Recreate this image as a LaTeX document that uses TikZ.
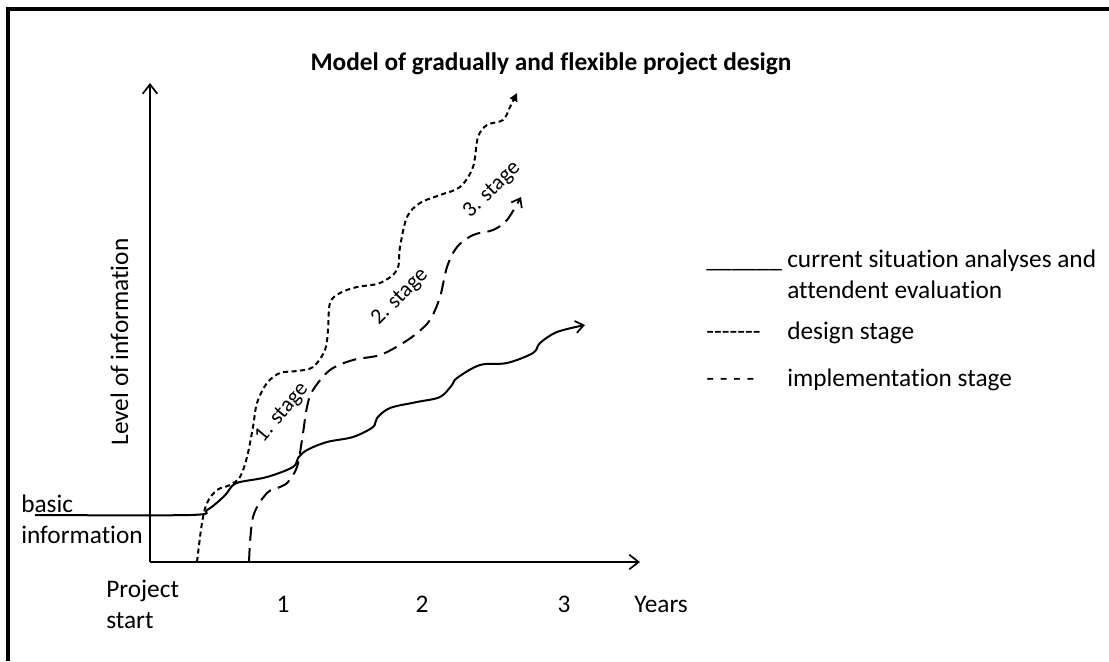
\documentclass[tikz,border=0pt]{standalone}
\usepackage{fontspec}
\setmainfont{Carlito}[Ligatures={TeX,NoCommon}]
\usetikzlibrary{arrows.meta}
\begin{document}
\begin{tikzpicture}[x=0.75pt,y=-0.75pt,
  txt/.style={inner sep=0pt,font=\fontsize{19}{21}\selectfont},
  stagelbl/.style={inner sep=0pt,font=\fontsize{16.5}{18}\selectfont},
  axisline/.style={line width=1.5pt,-{Straight Barb[length=7pt,width=11pt,line width=1.3pt]}},
  evalcurve/.style={line width=1.5pt},
  designcurve/.style={line width=1.5pt,dash pattern=on 3.8pt off 2.6pt},
  implcurve/.style={line width=1.5pt,dash pattern=on 10.5pt off 5.5pt},
  barb/.style={-{Straight Barb[length=6pt,width=9pt,line width=1.3pt]}}
]
\useasboundingbox (0,0) rectangle (1109,661);
% frame (top and left only)
\draw[line width=2.4pt] (8,661) -- (8,9) -- (1109,9);

% title
\node[txt,anchor=base,font=\fontsize{19}{21}\selectfont\bfseries] (title) at (551,70) {Model of gradually and flexible project design};

% axes
\coordinate (O) at (150,562);
\coordinate (ytop) at (150,83);
\coordinate (xend) at (640,562);
\draw[axisline] (O) -- (ytop);
\draw[axisline] (O) -- (xend);

% axis labels
\node[txt,anchor=base,rotate=90] (ylab) at (128,342) {Level of information};
\node[txt,anchor=base west] (basic) at (21,512) {basic};
\node[txt,anchor=base west] (info) at (21,543) {information};
\node[txt,anchor=base west] (proj) at (106,597) {Project};
\node[txt,anchor=base west] (start) at (106,628) {start};
\node[txt,anchor=base] (t1) at (283,612) {1};
\node[txt,anchor=base] (t2) at (422,612) {2};
\node[txt,anchor=base] (t3) at (564,612) {3};
\node[txt,anchor=base west] (years) at (634,612) {Years};

% current situation analyses curve (solid)
\draw[evalcurve,barb] plot[smooth,tension=0.55] coordinates {
 (35,515) (190,515) (207,510) (220,500) (227,493) (232,486) (240,482)
 (267,477) (293,467) (298,458) (307,450) (327,442) (353,437) (373,427)
 (377,418) (390,408) (417,402) (440,397) (452,385) (457,378) (480,365)
 (507,363) (533,353) (540,343) (557,332) (585,325)};

% design stage curve (short dashes)
\draw[designcurve,-{Triangle[length=6pt,width=6pt]}] plot[smooth,tension=0.55] coordinates {
 (197,562) (202,523) (207,503) (217,490) (230,485) (240,477) (247,457)
 (253,427) (257,403) (267,383) (280,373) (297,371) (313,367) (325,350)
 (328,330) (330,303) (340,293) (357,287) (380,283) (397,270) (400,247)
 (407,217) (420,203) (440,195) (460,187) (473,167) (478,137) (487,125)
 (503,120) (510,107) (517,93)};

% implementation stage curve (long dashes)
\draw[implcurve,barb] plot[smooth,tension=0.55] coordinates {
 (249,562) (253,517) (267,493) (280,487) (288,482) (297,467) (302,440)
 (307,407) (313,390) (330,370) (353,360) (380,355) (403,343) (417,333)
 (430,320) (440,297) (447,267) (457,247) (473,235) (493,230) (507,220)
 (521,197)};

% stage labels
\node[stagelbl,rotate=50] (s1) at (282,413) {1. stage};
\node[stagelbl,rotate=45] (s2) at (400,297) {2. stage};
\node[stagelbl,rotate=44] (s3) at (492,190) {3. stage};

% legend
\node[txt,anchor=base west] (l1) at (706,267) {\_\_\_\_\_\_};
\node[txt,anchor=base west] (l1a) at (787,267) {current situation analyses and};
\node[txt,anchor=base west] (l1b) at (787,298) {attendent evaluation};
\node[txt,anchor=base west] (l2) at (706,339) {-{}-{}-{}-{}-{}-{}-};
\node[txt,anchor=base west] (l2a) at (787,339) {design stage};
\node[txt,anchor=base west] (l3) at (706,386) {- - - -};
\node[txt,anchor=base west] (l3a) at (787,386) {implementation stage};
\end{tikzpicture}
\end{document}
